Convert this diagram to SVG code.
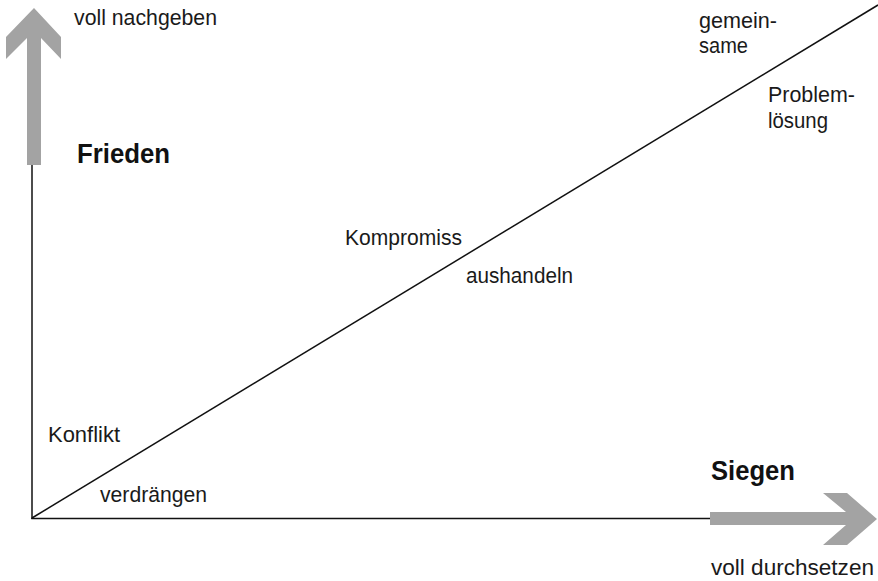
<svg xmlns="http://www.w3.org/2000/svg" width="878" height="581" viewBox="0 0 878 581">
<style>
.t{font-family:"Liberation Sans",Arial,sans-serif;font-size:22px;fill:#1a1a1a}
.b{font-family:"Liberation Sans",Arial,sans-serif;font-size:28px;font-weight:bold;fill:#111}
.ax{stroke:#111;stroke-width:1.5;fill:none}
.arr{fill:#a3a3a3}
</style>
<rect width="878" height="581" fill="#fff"/>
<g id="arrows">
<polygon id="arrow-up" class="arr" points="34,8 61,37 61,59 41,38 41,165 27,165 27,38 6,59 6,37"/>
<polygon id="arrow-right" class="arr" points="710,512 846,512 823,493 847,493 877,519 847,545 823,545 846,525 710,525"/>
</g>
<g id="connectors">
<line class="ax" x1="32" y1="165" x2="32" y2="519"/>
<line class="ax" x1="31.3" y1="518.5" x2="710" y2="518.5"/>
<line class="ax" x1="32" y1="518" x2="878" y2="5"/>
</g>
<g id="labels">
<text class="t" x="74" y="25" textLength="143" lengthAdjust="spacingAndGlyphs">voll nachgeben</text>
<text class="b" x="77" y="163" textLength="93" lengthAdjust="spacingAndGlyphs">Frieden</text>
<text class="t" x="699" y="28" textLength="78" lengthAdjust="spacingAndGlyphs">gemein-</text>
<text class="t" x="699" y="53" textLength="49" lengthAdjust="spacingAndGlyphs">same</text>
<text class="t" x="768" y="102" textLength="87" lengthAdjust="spacingAndGlyphs">Problem-</text>
<text class="t" x="768" y="128" textLength="60" lengthAdjust="spacingAndGlyphs">lösung</text>
<text class="t" x="345" y="245" textLength="117" lengthAdjust="spacingAndGlyphs">Kompromiss</text>
<text class="t" x="466" y="283" textLength="107" lengthAdjust="spacingAndGlyphs">aushandeln</text>
<text class="t" x="48" y="442" textLength="72" lengthAdjust="spacingAndGlyphs">Konflikt</text>
<text class="t" x="100" y="502" textLength="107" lengthAdjust="spacingAndGlyphs">verdrängen</text>
<text class="b" x="711" y="480" textLength="84" lengthAdjust="spacingAndGlyphs">Siegen</text>
<text class="t" x="711" y="575" textLength="163" lengthAdjust="spacingAndGlyphs">voll durchsetzen</text>
</g>
</svg>
